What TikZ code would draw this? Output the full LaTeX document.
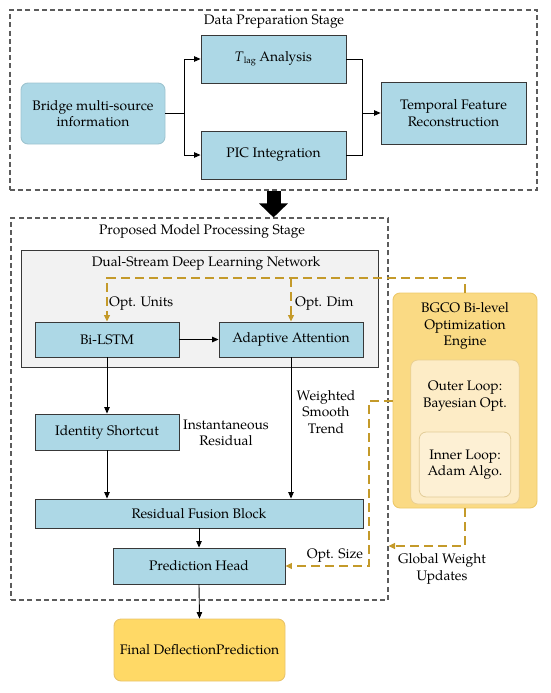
\documentclass[tikz,border=0pt]{standalone}
\usepackage{fontspec}
\setmainfont{TeX Gyre Pagella}
\usetikzlibrary{arrows.meta}
\definecolor{lblue}{HTML}{ADD8E6}
\definecolor{bluebd}{HTML}{9EC4D0}
\definecolor{boxbd}{HTML}{383838}
\definecolor{grayfill}{HTML}{F2F2F2}
\definecolor{dashgray}{HTML}{5C5C5C}
\definecolor{goldline}{HTML}{C49A2A}
\definecolor{bgcofill}{HTML}{FADA84}
\definecolor{bgcobd}{HTML}{EDC96A}
\definecolor{outerfill}{HTML}{FDECC6}
\definecolor{outerbd}{HTML}{E9CF92}
\definecolor{innerfill}{HTML}{FDF0D4}
\definecolor{innerbd}{HTML}{E2CC98}
\definecolor{finalfill}{HTML}{FFD966}
\definecolor{finalbd}{HTML}{E9C46C}
\tikzset{
  every node/.style={font=\fontsize{13.8}{16.5}\selectfont, inner sep=0pt, align=center},
  bluebox/.style={draw=boxbd, line width=0.9pt, fill=lblue},
  roundblue/.style={draw=bluebd, line width=0.9pt, fill=lblue, rounded corners=7pt},
  container/.style={draw=dashgray, line width=1.1pt, dash pattern=on 5pt off 3.2pt},
  graybox/.style={draw=boxbd, line width=0.9pt, fill=grayfill},
  conn/.style={draw=black, line width=0.9pt, -{Triangle[length=6.5pt,width=5.5pt]}},
  plain/.style={draw=black, line width=0.9pt},
  goldconn/.style={draw=goldline, line width=1.2pt, dash pattern=on 9pt off 5pt, -{Triangle[length=6.5pt,width=6pt]}},
}
\begin{document}
\begin{tikzpicture}[x=1pt,y=-1pt]
\useasboundingbox (0,0) rectangle (550,693);
% ---- Data preparation stage
\node[container, minimum width=527pt, minimum height=180pt] (dataprep) at (273.5,100) {};
\node (dplabel) at (274,22) {Data Preparation Stage};
\node[roundblue, minimum width=144pt, minimum height=61pt] (bridge) at (93,113.5) {Bridge multi-source\\information};
\node[bluebox, minimum width=145pt, minimum height=48pt] (tlag) at (273.5,59) {\textit{T}\raisebox{-1.5pt}{\fontsize{9}{9}\selectfont lag} Analysis};
\node[bluebox, minimum width=145pt, minimum height=48pt] (pic) at (273.5,155) {PIC Integration};
\node[bluebox, minimum width=145pt, minimum height=62pt] (temporal) at (453.5,113) {Temporal Feature\\Reconstruction};
\coordinate (split) at (184,113.5);
\coordinate (merge) at (362,113);
\draw[plain] (bridge.east) -- (split);
\draw[conn] (split) |- (tlag.west);
\draw[conn] (split) |- (pic.west);
\draw[plain] (tlag.east) -| (merge);
\draw[plain] (pic.east) -| (merge);
\draw[conn] (merge) -- (temporal.west);
% ---- Proposed model stage
\node[container, minimum width=377pt, minimum height=382pt] (proposed) at (199.5,409) {};
\node (prlabel) at (202,231) {Proposed Model Processing Stage};
\node[graybox, minimum width=357pt, minimum height=117pt] (gray) at (199.5,308.5) {};
\node (graylabel) at (206,263) {Dual-Stream Deep Learning Network};
\node[bluebox, minimum width=144pt, minimum height=35pt] (bilstm) at (107,339.5) {Bi-LSTM};
\node[bluebox, minimum width=144pt, minimum height=35pt] (adapt) at (291,339.5) {Adaptive Attention};
\node[bluebox, minimum width=144pt, minimum height=36pt] (identity) at (107,432) {Identity Shortcut};
\node[bluebox, minimum width=328pt, minimum height=29pt] (residual) at (199,513.5) {Residual Fusion Block};
\node[bluebox, minimum width=172pt, minimum height=36pt] (predhead) at (199,566) {Prediction Head};
\node[draw=finalbd, line width=0.9pt, fill=finalfill, rounded corners=7pt, minimum width=171pt, minimum height=62pt] (final) at (199.5,650) {Final DeflectionPrediction};
% big arrow
\draw[line width=14pt, draw=black, -{Triangle[length=14pt,width=28pt]}] (dataprep.south) -- (dataprep.south |- proposed.north);
% black connectors
\draw[conn] (bilstm.east) -- (adapt.west);
\draw[conn] (bilstm.south) -- (identity.north);
\draw[conn] (identity.south) -- (identity.south |- residual.north);
\draw[conn] (adapt.south) -- (adapt.south |- residual.north);
\draw[conn] (residual.south) -- (predhead.north);
\draw[conn] (predhead.south) -- (final.north);
% labels
\node (instlabel) at (226,433) {Instantaneous\\Residual};
\node (wlabel) at (326,412) {Weighted\\Smooth\\Trend};
\node[anchor=west] (optunits) at (109,304) {Opt. Units};
\node[anchor=west] (optdim) at (295,304) {Opt. Dim};
\node (optsize) at (335,556) {Opt. Size};
\node (gwu) at (442,569) {Global Weight\\Updates};
% ---- BGCO engine
\node[draw=bgcobd, line width=0.9pt, fill=bgcofill, rounded corners=7pt, minimum width=144pt, minimum height=215pt] (bgco) at (465,400.5) {};
\node (bgcolabel) at (465,326) {BGCO Bi-level\\Optimization\\Engine};
\node[draw=outerbd, line width=0.8pt, fill=outerfill, rounded corners=7pt, minimum width=108.5pt, minimum height=144pt] (outer) at (465,432) {};
\node (outerlabel) at (465,396) {Outer Loop:\\Bayesian Opt.};
\node[draw=innerbd, line width=0.8pt, fill=innerfill, rounded corners=7pt, minimum width=91.5pt, minimum height=65pt] (inner) at (465,464.5) {Inner Loop:\\Adam Algo.};
% gold connectors
\coordinate (gt) at (465,278);
\coordinate (gj) at (291,278);
\draw[goldconn] (bgco.north) -- (gt) -| (bilstm.north);
\draw[goldconn] (gj) -- (adapt.north);
\coordinate (os) at (369,401);
\draw[goldconn] (bgco.west |- os) -- (os) |- (predhead.east);
\coordinate (gw) at (465,546);
\draw[goldconn] (bgco.south) -- (gw) -- (proposed.east |- gw);
\end{tikzpicture}
\end{document}
